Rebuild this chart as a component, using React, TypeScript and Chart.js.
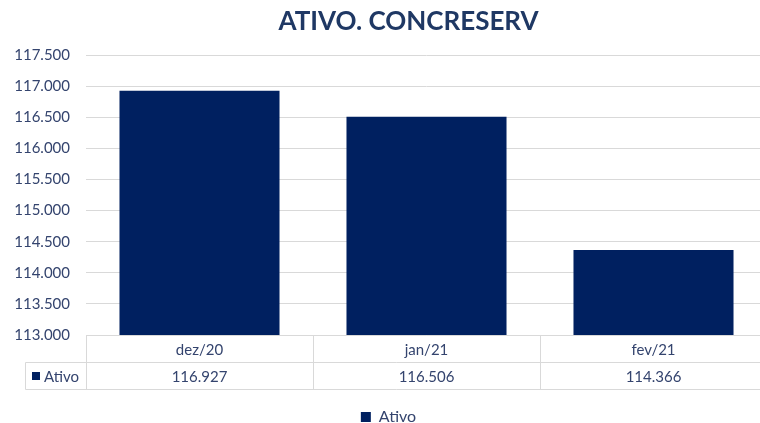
import React, { useEffect, useRef } from "react";
import { Chart, registerables } from "chart.js";

Chart.register(...registerables);

const chartTitle = "ATIVO. CONCRESERV";
const seriesLabel = "Ativo";
const categories = ["dez/20", "jan/21", "fev/21"];
const ativoValues = [116927, 116506, 114366];
const yMin = 113000;
const yMax = 117500;
const yStep = 500;

const FONT = "Lato, 'Open Sans', sans-serif";
const BAR_COLOR = "#002060";
const TEXT_COLOR = "#34446E";
const TITLE_COLOR = "#1F3864";
const GRID_COLOR = "#D9D9D9";

function fmt(v: number): string {
  const s = Math.round(v).toString();
  return s.replace(/\B(?=(\d{3})+(?!\d))/g, ".");
}

const shiftPlugin = {
  id: "shiftBlocks",
  afterLayout(chart: any) {
    const t = chart.titleBlock;
    if (t) {
      t.left += 25;
      t.right += 25;
    }
    const l = chart.legend;
    if (l) {
      l.left += 5;
      l.right += 5;
    }
  },
};

const dataTablePlugin = {
  id: "dataTable",
  afterDraw(chart: any) {
    const ctx = chart.ctx;
    const xs = chart.scales.x;
    const ca = chart.chartArea;
    const n = chart.data.labels.length;
    const colW = (ca.right - ca.left) / n;
    const rowH = 27;
    const top = Math.round(ca.bottom) + 0.5;
    const labelLeft = 25.5;
    ctx.save();
    ctx.strokeStyle = GRID_COLOR;
    ctx.lineWidth = 1;
    ctx.beginPath();
    ctx.moveTo(ca.left, top);
    ctx.lineTo(ca.right, top);
    ctx.moveTo(labelLeft, top + rowH);
    ctx.lineTo(ca.right, top + rowH);
    ctx.moveTo(labelLeft, top + rowH * 2);
    ctx.lineTo(ca.right, top + rowH * 2);
    ctx.moveTo(labelLeft, top + rowH);
    ctx.lineTo(labelLeft, top + rowH * 2);
    for (let i = 0; i < n; i++) {
      const bx = Math.round(xs.getPixelForValue(i) - colW / 2) + 0.5;
      ctx.moveTo(bx, top);
      ctx.lineTo(bx, top + rowH * 2);
    }
    ctx.stroke();

    ctx.font = `15px ${FONT}`;
    ctx.fillStyle = TEXT_COLOR;
    ctx.textAlign = "center";
    ctx.textBaseline = "middle";
    const ds = chart.data.datasets[0];
    for (let i = 0; i < n; i++) {
      const cx = xs.getPixelForValue(i);
      ctx.fillText(String(chart.data.labels[i]), cx, top + rowH / 2 + 1);
      ctx.fillText(fmt(ds.data[i]), cx, top + rowH * 1.5 + 1);
    }
    ctx.fillStyle = ds.backgroundColor;
    ctx.fillRect(32, top + rowH * 1.5 - 4, 8, 8);
    ctx.fillStyle = TEXT_COLOR;
    ctx.textAlign = "left";
    ctx.fillText(ds.label, 44, top + rowH * 1.5 + 1);
    ctx.restore();
  },
};

export default function App() {
  const ref = useRef<HTMLCanvasElement | null>(null);
  useEffect(() => {
    if (!ref.current) return;
    const chart = new Chart(ref.current, {
      type: "bar",
      data: {
        labels: categories,
        datasets: [
          {
            label: seriesLabel,
            data: ativoValues,
            backgroundColor: BAR_COLOR,
            borderWidth: 0,
            barPercentage: 0.705,
            categoryPercentage: 1,
          },
        ],
      },
      options: {
        responsive: false,
        animation: false,
        layout: { padding: { left: 0, right: 3, top: 0, bottom: 0 } },
        plugins: {
          title: {
            display: true,
            text: chartTitle,
            color: TITLE_COLOR,
            font: { family: FONT, size: 26, weight: "bold" },
            padding: { top: 6, bottom: 17.8 },
          },
          legend: {
            display: true,
            position: "bottom",
            labels: {
              color: TEXT_COLOR,
              font: { family: FONT, size: 16 },
              boxWidth: 10,
              boxHeight: 10,
              padding: 10,
            },
          },
          tooltip: { enabled: false },
        },
        scales: {
          x: {
            grid: { display: false },
            border: { display: false },
            ticks: { display: false },
            afterFit: (scale: any) => {
              scale.height = 64;
            },
          },
          y: {
            min: yMin,
            max: yMax,
            grid: { color: GRID_COLOR, drawTicks: false },
            border: { display: false },
            ticks: {
              stepSize: yStep,
              padding: 16,
              color: TEXT_COLOR,
              font: { family: FONT, size: 15 },
              callback: (v: any) => fmt(Number(v)),
            },
            afterFit: (scale: any) => {
              scale.width = 86;
            },
          },
        },
      },
      plugins: [shiftPlugin, dataTablePlugin],
    });
    return () => chart.destroy();
  }, []);
  return (
    <div
      style={{
        position: "fixed",
        left: 0,
        top: 0,
        width: 760,
        height: 423,
        overflow: "hidden",
        background: "#fff",
      }}
    >
      <canvas ref={ref} width={770} height={435} style={{ display: "block" }} />
    </div>
  );
}
